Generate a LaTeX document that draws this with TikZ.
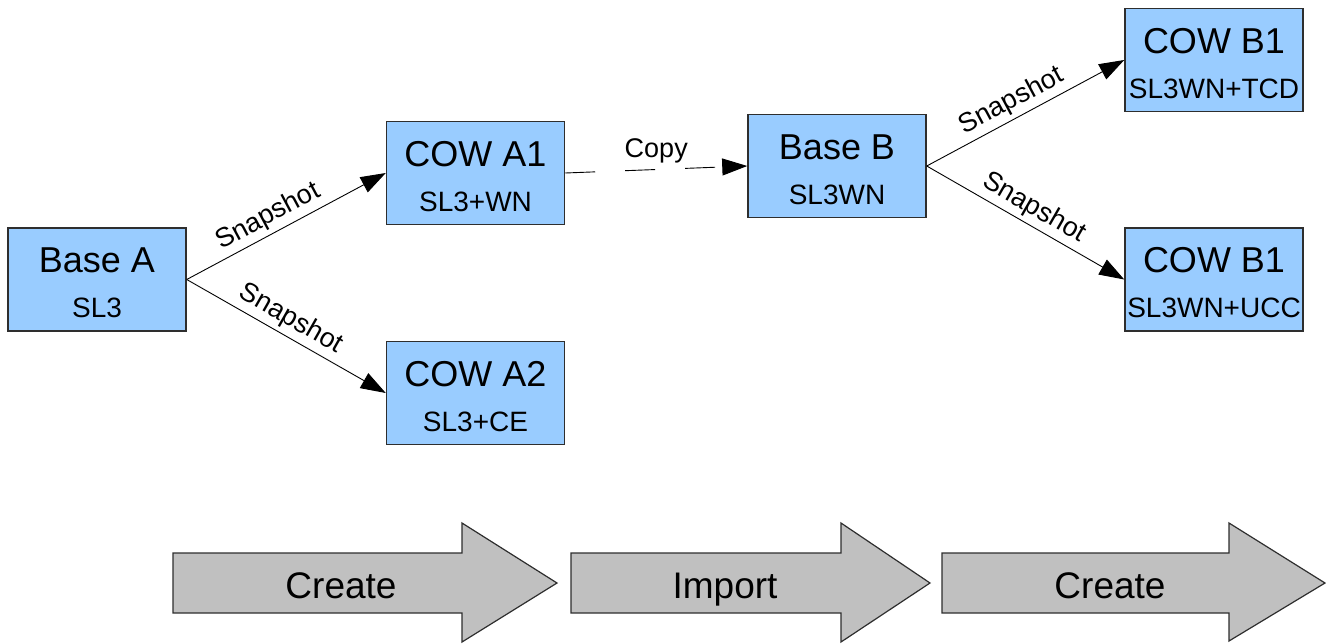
\documentclass[tikz,border=0pt]{standalone}
\usepackage{fontspec}
\setmainfont{Liberation Sans}
\usetikzlibrary{arrows.meta}
\definecolor{boxblue}{HTML}{99CCFF}
\definecolor{boxline}{HTML}{2E2E2E}
\definecolor{stagegray}{HTML}{C0C0C0}
\tikzset{
  vbox/.style={draw=boxline, fill=boxblue, line width=1.5pt, minimum width=178pt, minimum height=103pt, inner sep=0pt, align=center, font=\fontsize{36}{45}\selectfont},
  conn/.style={draw=black, line width=0.9pt, -{Triangle[length=25pt,width=17pt]}},
  lbl/.style={font=\fontsize{27}{30}\selectfont, sloped, above, inner sep=4pt},
  copylbl/.style={font=\fontsize{27}{30}\selectfont, above=6pt, inner sep=0pt},
  stage/.style={draw=boxline, fill=stagegray, line width=1.2pt},
  stagetext/.style={font=\fontsize{37}{40}\selectfont, inner sep=0pt, anchor=base}
}
\newcommand{\subt}[1]{\fontsize{28}{45}\selectfont #1}
\newcommand{\ttl}[1]{\rule{0pt}{32pt}#1}
\begin{document}
\begin{tikzpicture}[x=1pt,y=-1pt]
\useasboundingbox (0,0) rectangle (1326,643);
% boxes
\node[vbox] (ba) at (97,279.5) {\ttl{Base A}\\\subt{SL3}};
\node[vbox] (a1) at (475.5,173) {\ttl{COW A1}\\\subt{SL3+WN}};
\node[vbox] (a2) at (475.5,393) {\ttl{COW A2}\\\subt{SL3+CE}};
\node[vbox] (bb) at (837,166) {\ttl{Base B}\\\subt{SL3WN}};
\node[vbox] (b1) at (1214,60) {\ttl{COW B1}\\\subt{SL3WN+TCD}};
\node[vbox] (b2) at (1214,279.5) {\ttl{COW B1}\\\subt{SL3WN+UCC}};
% connectors
\draw[conn] (ba.east) -- node[lbl, pos=0.45] {Snapshot} (a1.west);
\draw[conn] (ba.east) -- node[lbl, pos=0.48] {Snapshot} (a2.west);
\draw[conn, dash pattern=on 30pt off 30pt] (a1.east) -- node[copylbl, midway] {Copy} (bb.west);
\draw[conn] (bb.east) -- node[lbl, pos=0.47] {Snapshot} (b1.west);
\draw[conn] (bb.east) -- node[lbl, pos=0.5] {Snapshot} (b2.west);
% stage arrows
\draw[stage] (173,553) -- (462,553) -- (462,523) -- (557,583) -- (462,642) -- (462,613) -- (173,613) -- cycle;
\node[stagetext] (s1) at (341,598) {Create};
\draw[stage] (571,553) -- (841,553) -- (841,523) -- (930,583) -- (841,642) -- (841,613) -- (571,613) -- cycle;
\node[stagetext] (s2) at (725,598) {Import};
\draw[stage] (942,553) -- (1229,553) -- (1229,523) -- (1325,583) -- (1229,641) -- (1229,613) -- (942,613) -- cycle;
\node[stagetext] (s3) at (1110,598) {Create};
\end{tikzpicture}
\end{document}
